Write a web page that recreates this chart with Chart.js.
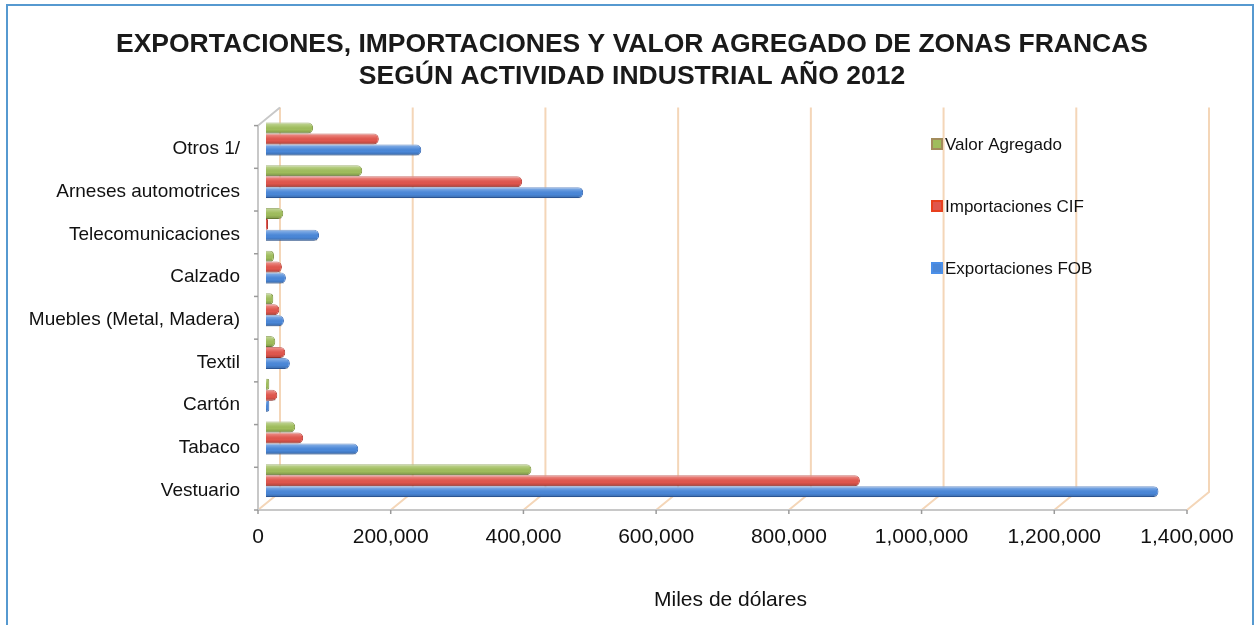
<!DOCTYPE html>
<html lang="es">
<head>
<meta charset="utf-8">
<script src="https://cdn.jsdelivr.net/npm/chart.js@4.4.1/dist/chart.umd.min.js"></script>
<style>
    body { margin: 0; background: #ffffff; }
    #zone { position: absolute; left: 0; top: 0; width: 1258px; height: 625px; }
    #cadre { position: absolute; left: 6px; top: 4px; width: 1244px; height: 700px; border: 2px solid #5699d0; pointer-events: none; }
</style>
</head>
<body>
<div id="zone"><canvas id="barCanvas" width="1258" height="625"></canvas></div>
<div id="cadre"></div>
<script>
// Donnees (miles de dolares)
let Categories = [
    "Otros 1/",
    "Arneses automotrices",
    "Telecomunicaciones",
    "Calzado",
    "Muebles (Metal, Madera)",
    "Textil",
    "Cartón",
    "Tabaco",
    "Vestuario"
]
let ValorAgregado = [71000, 145000, 26000, 12000, 11000, 14000, 5000, 44000, 400000]
let ImportacionesCIF = [170000, 386000, 3000, 24000, 20000, 29000, 17000, 56000, 895000]
let ExportacionesFOB = [234000, 478000, 80000, 30000, 27000, 36000, 5000, 139000, 1345000]
let NomsSeries = ["Valor Agregado", "Importaciones CIF", "Exportaciones FOB"]
let EtiquettesX = ["0", "200,000", "400,000", "600,000", "800,000", "1,000,000", "1,200,000", "1,400,000"]

let Police = "'Liberation Sans', Arial, sans-serif"

// decalages du faux relief (plan avant / plan du fond)
const AVANT = {dx: -8, dy: 8}
const FOND = {dx: 14, dy: -10}

// Murs, sol et lignes de grille en pseudo 3D
const cadre3D = {
    id: "cadre3D",
    beforeDatasetsDraw(chart) {
        const {ctx, chartArea, scales} = chart
        const x = scales.x
        const haut = chartArea.top
        const bas = chartArea.bottom
        const pas = (bas - haut) / Categories.length
        ctx.save()

        // grille du fond + diagonales du sol
        ctx.strokeStyle = "#f4d6b8"
        ctx.lineWidth = 2
        x.ticks.forEach(t => {
            const px = x.getPixelForValue(t.value)
            ctx.beginPath()
            ctx.moveTo(px + FOND.dx, haut + FOND.dy)
            ctx.lineTo(px + FOND.dx, bas + FOND.dy)
            ctx.lineTo(px + AVANT.dx, bas + AVANT.dy)
            ctx.stroke()
        })

        // mur gauche + sol (plan avant)
        const x0 = x.getPixelForValue(0) + AVANT.dx
        const xMax = x.getPixelForValue(x.max) + AVANT.dx
        ctx.strokeStyle = "#c8c8c8"
        ctx.lineWidth = 2
        ctx.beginPath()
        ctx.moveTo(x.getPixelForValue(0) + FOND.dx, haut + FOND.dy)
        ctx.lineTo(x0, haut + AVANT.dy)
        ctx.lineTo(x0, bas + AVANT.dy)
        ctx.lineTo(xMax, bas + AVANT.dy)
        ctx.stroke()

        // petites graduations
        ctx.strokeStyle = "#9a9a9a"
        ctx.lineWidth = 1.5
        for (let i = 0; i <= Categories.length; i++) {
            const py = haut + AVANT.dy + i * pas
            ctx.beginPath()
            ctx.moveTo(x0, py)
            ctx.lineTo(x0 - 4, py)
            ctx.stroke()
        }
        x.ticks.forEach(t => {
            const px = x.getPixelForValue(t.value) + AVANT.dx
            ctx.beginPath()
            ctx.moveTo(px, bas + AVANT.dy)
            ctx.lineTo(px, bas + AVANT.dy + 4)
            ctx.stroke()
        })
        ctx.restore()
    }
}

// Reflet pour donner un effet cylindre aux barres
const reflet = {
    id: "reflet",
    afterDatasetsDraw(chart) {
        const ctx = chart.ctx
        ctx.save()
        chart.data.datasets.forEach((ds, i) => {
            chart.getDatasetMeta(i).data.forEach(barre => {
                const {x, y, base, height} = barre.getProps(["x", "y", "base", "height"], true)
                const long = x - base - 2
                if (long <= 0) return
                const g = ctx.createLinearGradient(0, y - height / 2, 0, y + height / 2)
                g.addColorStop(0, "rgba(255,255,255,0.40)")
                g.addColorStop(0.4, "rgba(255,255,255,0.06)")
                g.addColorStop(0.65, "rgba(0,0,0,0)")
                g.addColorStop(1, "rgba(0,0,0,0.22)")
                ctx.fillStyle = g
                ctx.fillRect(base, y - height / 2, long, height)
            })
        })
        ctx.restore()
    }
}

// Legende dessinee dans la zone du graphique
const legende = {
    id: "legende",
    afterDraw(chart, args, opts) {
        const ctx = chart.ctx
        ctx.save()
        ctx.font = "17px " + Police
        ctx.textBaseline = "middle"
        ctx.textAlign = "left"
        chart.data.datasets.forEach((ds, i) => {
            const py = opts.y + i * opts.ecart
            ctx.fillStyle = ds.backgroundColor
            ctx.fillRect(opts.x, py - 5, 10, 10)
            ctx.strokeStyle = ds.legendBorder
            ctx.lineWidth = 2
            ctx.strokeRect(opts.x, py - 5, 10, 10)
            ctx.fillStyle = "#111111"
            ctx.fillText(ds.label, opts.x + 13, py + 1)
        })
        ctx.restore()
    }
}

function Initialisation() {
    const barCanvas = document.getElementById("barCanvas")
    const barChart = new Chart(barCanvas, {
        type: "bar",
        data: {
            labels: Categories,
            datasets: [{
                label: NomsSeries[0],
                data: ValorAgregado,
                xAxisID: "x",
                yAxisID: "y",
                backgroundColor: "#9fbd5c",
                borderColor: "#7d9440",
                legendBorder: "#a38c5c"
            }, {
                label: NomsSeries[1],
                data: ImportacionesCIF,
                xAxisID: "x",
                yAxisID: "y",
                backgroundColor: "#e0564d",
                borderColor: "#b63a33",
                legendBorder: "#e8401e"
            }, {
                label: NomsSeries[2],
                data: ExportacionesFOB,
                xAxisID: "x",
                yAxisID: "y",
                backgroundColor: "#4a87d8",
                borderColor: "#3668b4",
                legendBorder: "#4b8fe8"
            }]
        },
        options: {
            indexAxis: "y",
            responsive: false,
            devicePixelRatio: 1,
            animation: false,
            categoryPercentage: 0.77,
            barPercentage: 1.0,
            borderWidth: 1,
            borderRadius: 5,
            layout: {
                padding: {left: 6, right: 0, top: 0, bottom: 0}
            },
            plugins: {
                legend: {display: false},
                tooltip: {enabled: false},
                title: {
                    display: true,
                    text: [
                        "EXPORTACIONES, IMPORTACIONES Y VALOR AGREGADO DE ZONAS FRANCAS",
                        "SEGÚN ACTIVIDAD INDUSTRIAL AÑO 2012"
                    ],
                    color: "#1a1a1a",
                    font: {family: Police, size: 26.5, weight: "bold", lineHeight: 1.2},
                    padding: {top: 29, bottom: 25}
                },
                legende: {x: 932, y: 144, ecart: 62}
            },
            scales: {
                x: {
                    min: 0,
                    max: 1400000,
                    grid: {display: false, drawTicks: false},
                    border: {display: false},
                    ticks: {
                        stepSize: 200000,
                        color: "#111111",
                        font: {family: Police, size: 21},
                        padding: 23,
                        labelOffset: AVANT.dx,
                        maxRotation: 0,
                        callback: (value, index) => EtiquettesX[index]
                    },
                    title: {
                        display: true,
                        text: "Miles de dólares",
                        color: "#111111",
                        font: {family: Police, size: 21},
                        padding: {top: 20, bottom: 12}
                    },
                    afterFit: (scale) => {
                        scale.height = 123
                        scale.paddingLeft = 0
                        scale.paddingRight = 0
                    }
                },
                y: {
                    grid: {display: false, drawTicks: false},
                    border: {display: false},
                    ticks: {
                        color: "#111111",
                        font: {family: Police, size: 19},
                        padding: 26,
                        labelOffset: 10,
                        autoSkip: false
                    },
                    afterFit: (scale) => { scale.width = 260 }
                },
                // axe vide a droite : reserve la marge sans decentrer le titre
                droite: {
                    type: "linear",
                    position: "right",
                    grid: {display: false, drawTicks: false},
                    border: {display: false},
                    ticks: {display: false},
                    afterFit: (scale) => {
                        scale.width = 63
                        scale.paddingTop = 0
                        scale.paddingBottom = 0
                    }
                }
            }
        },
        plugins: [cadre3D, reflet, legende]
    })
}

window.addEventListener("DOMContentLoaded", () => {
    Initialisation()
})
</script>
</body>
</html>
